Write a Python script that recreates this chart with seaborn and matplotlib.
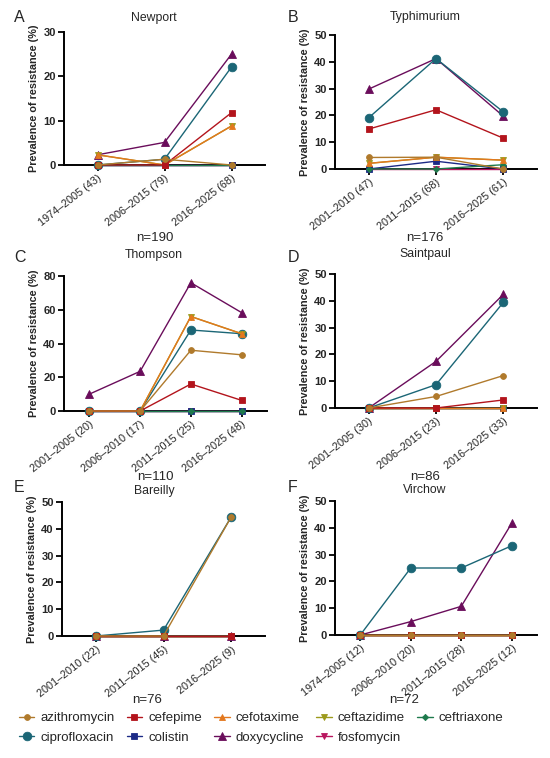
import matplotlib
matplotlib.use("Agg")
import matplotlib.pyplot as plt
import seaborn as sns
import pandas as pd

# ---------------- data ----------------
drugs = ["azithromycin", "cefepime", "cefotaxime", "ceftazidime", "ceftriaxone",
         "ciprofloxacin", "colistin", "doxycycline", "fosfomycin"]

colors = {"azithromycin": "#B07A2C", "cefepime": "#B3141C", "cefotaxime": "#E3781E",
          "ceftazidime": "#9C9A1C", "ceftriaxone": "#1E7A4C", "ciprofloxacin": "#1B6676",
          "colistin": "#1C2A86", "doxycycline": "#6A0D5B", "fosfomycin": "#B8155E"}
markers = {"azithromycin": "o", "cefepime": "s", "cefotaxime": "^", "ceftazidime": "v",
           "ceftriaxone": "D", "ciprofloxacin": "o", "colistin": "s", "doxycycline": "^",
           "fosfomycin": "v"}
msizes = {"azithromycin": 4.2, "cefepime": 4.6, "cefotaxime": 5.0, "ceftazidime": 5.0,
          "ceftriaxone": 3.2, "ciprofloxacin": 6.2, "colistin": 4.6, "doxycycline": 5.4,
          "fosfomycin": 5.0}

newport_periods = ["1974–2005 (43)", "2006–2015 (79)", "2016–2025 (68)"]
newport = {
    "azithromycin": [0, 1.3, 0], "cefepime": [0, 0, 11.8], "cefotaxime": [2.3, 0, 8.8],
    "ceftazidime": [2.3, 0, 8.8], "ceftriaxone": [0, 0, 0], "ciprofloxacin": [0, 1.3, 22.1],
    "colistin": [0, 0, 0], "doxycycline": [2.3, 5.1, 25.0], "fosfomycin": [0, 0, 0]}

typhi_periods = ["2001–2010 (47)", "2011–2015 (68)", "2016–2025 (61)"]
typhi = {
    "azithromycin": [4.3, 4.4, 0], "cefepime": [14.9, 22.1, 11.5], "cefotaxime": [2.1, 4.4, 3.3],
    "ceftazidime": [2.1, 4.4, 3.3], "ceftriaxone": [0, 0, 1.6], "ciprofloxacin": [19.1, 41.2, 21.3],
    "colistin": [0, 2.9, 0], "doxycycline": [29.8, 41.2, 19.7], "fosfomycin": [0, 0, 0]}

thompson_periods = ["2001–2005 (20)", "2006–2010 (17)", "2011–2015 (25)", "2016–2025 (48)"]
thompson = {
    "azithromycin": [0, 0, 36.0, 33.3], "cefepime": [0, 0, 16.0, 6.3], "cefotaxime": [0, 0, 56.0, 45.8],
    "ceftazidime": [0, 0, 56.0, 45.8], "ceftriaxone": [0, 0, 0, 0], "ciprofloxacin": [0, 0, 48.0, 45.8],
    "colistin": [0, 0, 0, 0], "doxycycline": [10.0, 23.5, 76.0, 58.3], "fosfomycin": [0, 0, 0, 0]}

saintpaul_periods = ["2001–2005 (30)", "2006–2015 (23)", "2016–2025 (33)"]
saintpaul = {
    "azithromycin": [0, 4.3, 12.1], "cefepime": [0, 0, 3.0], "cefotaxime": [0, 0, 0],
    "ceftazidime": [0, 0, 0], "ceftriaxone": [0, 0, 0], "ciprofloxacin": [0, 8.7, 39.4],
    "colistin": [0, 0, 0], "doxycycline": [0, 17.4, 42.4], "fosfomycin": [0, 0, 0]}

bareilly_periods = ["2001–2010 (22)", "2011–2015 (45)", "2016–2025 (9)"]
bareilly = {
    "azithromycin": [0, 0, 44.4], "cefepime": [0, 0, 0], "cefotaxime": [0, 0, 0],
    "ceftazidime": [0, 0, 0], "ceftriaxone": [0, 0, 0], "ciprofloxacin": [0, 2.2, 44.4],
    "colistin": [0, 0, 0], "doxycycline": [0, 0, 0], "fosfomycin": [0, 0, 0]}

virchow_periods = ["1974–2005 (12)", "2006–2010 (20)", "2011–2015 (28)", "2016–2025 (12)"]
virchow = {
    "azithromycin": [0, 0, 0, 0], "cefepime": [0, 0, 0, 0], "cefotaxime": [0, 0, 0, 0],
    "ceftazidime": [0, 0, 0, 0], "ceftriaxone": [0, 0, 0, 0], "ciprofloxacin": [0, 25.0, 25.0, 33.3],
    "colistin": [0, 0, 0, 0], "doxycycline": [0, 5.0, 10.7, 41.7], "fosfomycin": [0, 0, 0, 0]}

panel_letters = ["A", "B", "C", "D", "E", "F"]
panel_titles = ["Newport", "Typhimurium", "Thompson", "Saintpaul", "Bareilly", "Virchow"]
panel_n = ["n=190", "n=176", "n=110", "n=86", "n=76", "n=72"]
panel_ymax = [30, 50, 80, 50, 50, 50]
panel_ystep = [10, 10, 20, 10, 10, 10]

# ---------------- style ----------------
sns.set_theme(style="ticks")
plt.rcParams["font.family"] = ["Liberation Sans", "DejaVu Sans"]

W, H = 550, 758
fig = plt.figure(figsize=(W / 100, H / 100), dpi=100)

# pixel boxes: left, right, top, bottom
boxes = [(64, 265, 32, 165), (335, 537, 35, 169),
         (64, 267, 276, 411), (335, 537, 274, 408),
         (62, 265, 502, 636), (335, 537, 501, 635)]
# pixel positions of annotations
title_pos = [(154, 18), (425, 17), (154, 255), (425, 254), (154, 491), (425, 490)]
letter_pos = [(14, 17), (288, 17), (14, 257), (288, 257), (14, 487), (288, 487)]
n_pos = [(155, 238), (425, 238), (155, 477), (425, 477), (147, 700), (404, 700)]

datasets = [(newport_periods, newport), (typhi_periods, typhi), (thompson_periods, thompson),
            (saintpaul_periods, saintpaul), (bareilly_periods, bareilly), (virchow_periods, virchow)]

axes = []
for i, ((periods, vals), box) in enumerate(zip(datasets, boxes)):
    l, r, t, b = box
    ax = fig.add_axes([l / W, 1 - b / H, (r - l) / W, (b - t) / H])
    axes.append(ax)
    for k, d in enumerate(drugs):
        sub = pd.DataFrame({"period": periods, "value": vals[d]})
        sns.lineplot(data=sub, x="period", y="value", ax=ax, sort=False, errorbar=None,
                     color=colors[d], marker=markers[d], markersize=msizes[d],
                     markeredgecolor=colors[d], markeredgewidth=0.6, linewidth=1.0,
                     label=d, zorder=20 - k, clip_on=False)
    if ax.get_legend() is not None:
        ax.get_legend().remove()
    n = len(periods)
    ax.set_xlim(-0.5, n - 0.5)
    ax.set_ylim(0, panel_ymax[i])
    ax.set_yticks(range(0, panel_ymax[i] + 1, panel_ystep[i]))
    for lab in ax.get_yticklabels():
        lab.set_fontweight("bold")
    ax.tick_params(axis="y", labelsize=8, length=4, width=1.3, pad=2, color="black")
    ax.tick_params(axis="x", labelsize=7.8, length=4, width=1.3, pad=2, color="black")
    plt.setp(ax.get_xticklabels(), rotation=38, ha="right", rotation_mode="anchor")
    ax.set_xlabel("")
    ax.set_ylabel("Prevalence of resistance (%)", fontsize=7.8, fontweight="bold", labelpad=3)
    sns.despine(ax=ax)
    for s in ["left", "bottom"]:
        ax.spines[s].set_linewidth(1.4)
        ax.spines[s].set_color("black")
    tx, ty = title_pos[i]
    fig.text(tx / W, 1 - ty / H, panel_titles[i], fontsize=8.8, ha="center", va="center")
    lx, ly = letter_pos[i]
    fig.text(lx / W, 1 - ly / H, panel_letters[i], fontsize=11.5, ha="left", va="center")
    nx, ny = n_pos[i]
    fig.text(nx / W, 1 - ny / H, panel_n[i], fontsize=9.5, ha="center", va="center")

handles, labels = axes[0].get_legend_handles_labels()
# column-major fill for 2 rows x 5 columns
leg_order = ["azithromycin", "ciprofloxacin", "cefepime", "colistin", "cefotaxime",
             "doxycycline", "ceftazidime", "fosfomycin", "ceftriaxone"]
idx = [labels.index(d) for d in leg_order]
fig.legend([handles[j] for j in idx], [labels[j] for j in idx], ncol=5,
           loc="center", bbox_to_anchor=(261 / W, 1 - 728 / H), frameon=False,
           fontsize=9.5, handlelength=1.2, handletextpad=0.45, columnspacing=0.9,
           labelspacing=0.55)

fig.savefig("out.png", dpi=100)
